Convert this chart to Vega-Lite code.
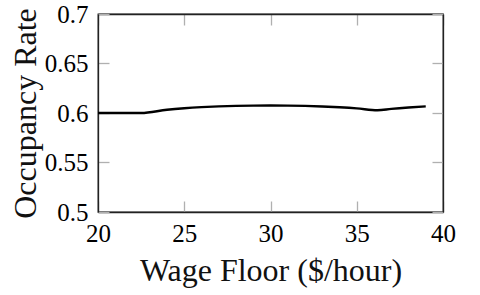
{
  "$schema": "https://vega.github.io/schema/vega-lite/v6.json",
  "width": 345,
  "height": 198,
  "autosize": {"type": "none"},
  "padding": {"left": 98, "top": 14, "right": 37, "bottom": 83},
  "background": "white",
  "config": {
    "view": {"stroke": "#222", "strokeWidth": 1.3},
    "axis": {
      "labelFont": "Liberation Serif",
      "titleFont": "Liberation Serif",
      "labelFontSize": 25,
      "titleFontSize": 32,
      "labelColor": "black",
      "titleColor": "#111",
      "titleFontWeight": "normal",
      "domainColor": "#222",
      "domainWidth": 1.3,
      "tickColor": "#b0b0b0",
      "tickWidth": 1.3,
      "tickSize": -11,
      "labelFlush": false,
      "labelOverlap": false,
      "grid": false
    }
  },
  "data": {
    "values": [
      {"w": 20, "r": 0.600},
      {"w": 22.5, "r": 0.600},
      {"w": 24, "r": 0.6033},
      {"w": 25, "r": 0.6048},
      {"w": 26, "r": 0.6059},
      {"w": 27, "r": 0.6067},
      {"w": 28, "r": 0.6072},
      {"w": 29, "r": 0.6075},
      {"w": 30, "r": 0.6076},
      {"w": 31, "r": 0.6075},
      {"w": 32, "r": 0.6072},
      {"w": 33, "r": 0.6066},
      {"w": 34, "r": 0.6058},
      {"w": 35, "r": 0.6047},
      {"w": 36.2, "r": 0.6028},
      {"w": 37, "r": 0.6042},
      {"w": 38, "r": 0.6056},
      {"w": 39, "r": 0.6067}
    ]
  },
  "layer": [
    {
      "mark": {"type": "line", "color": "black", "strokeWidth": 2.4, "interpolate": "monotone"},
      "encoding": {
        "x": {"field": "w", "type": "quantitative", "scale": {"domain": [20, 40], "nice": false, "zero": false},
              "axis": {"values": [20, 25, 30, 35, 40], "title": "Wage Floor ($/hour)", "labelPadding": 20, "titlePadding": 9}},
        "y": {"field": "r", "type": "quantitative", "scale": {"domain": [0.5, 0.7], "nice": false, "zero": false},
              "axis": {"values": [0.5, 0.55, 0.6, 0.65, 0.7], "format": ".2~f", "title": "Occupancy Rate", "labelPadding": 21, "titlePadding": 2}}
      }
    },
    {
      "mark": {"type": "line", "opacity": 0},
      "encoding": {
        "x": {"field": "w", "type": "quantitative", "scale": {"domain": [20, 40], "nice": false, "zero": false},
              "axis": {"orient": "top", "values": [20, 25, 30, 35, 40], "labels": false, "title": null}},
        "y": {"field": "r", "type": "quantitative", "scale": {"domain": [0.5, 0.7], "nice": false, "zero": false},
              "axis": {"orient": "right", "values": [0.5, 0.55, 0.6, 0.65, 0.7], "labels": false, "title": null}}
      }
    }
  ],
  "resolve": {"axis": {"x": "independent", "y": "independent"}}
}
